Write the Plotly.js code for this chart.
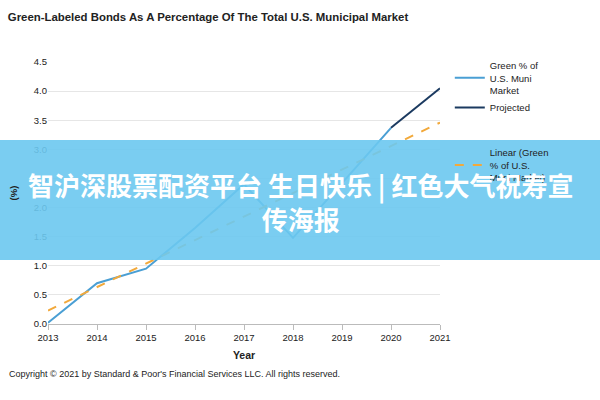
<!DOCTYPE html>
<html><head><meta charset="utf-8">
<script src="https://cdn.plot.ly/plotly-3.0.1.min.js"></script>
<style>html,body{margin:0;padding:0;background:#fff}#c{width:600px;height:400px}</style>
</head><body><div id="c"></div>
<script>
const years = [2013, 2014, 2015, 2016, 2017, 2018, 2019, 2020];
const greenPct = [0.02, 0.70, 0.95, 1.65, 2.40, 1.48, 2.42, 3.37];
const projYears = [2020, 2021];
const projPct = [3.37, 4.05];
const trendYears = [2013, 2021];
const trendPct = [0.23, 3.46];
const xTicks = [2013, 2014, 2015, 2016, 2017, 2018, 2019, 2020, 2021];
const yTicks = [0, 0.5, 1, 1.5, 2, 2.5, 3, 3.5, 4, 4.5];

const F = '"Liberation Sans", Arial, sans-serif';
const traces = [
  {x: years, y: greenPct, mode: 'lines', name: 'Green % of<br>U.S. Muni<br>Market',
   line: {color: '#4a9fd4', width: 2}, legendgroup: 'a'},
  {x: projYears, y: projPct, mode: 'lines', name: 'Projected',
   line: {color: '#1b3a60', width: 2}, legendgroup: 'a'},
  {x: trendYears, y: trendPct, mode: 'lines', name: 'Linear (Green<br>% of U.S.<br>Muni Market)',
   line: {color: '#f2a93b', width: 2, dash: 'dash'}, legendgroup: 'b'}
];
const layout = {
  width: 600, height: 400,
  margin: {l: 48, r: 160, t: 62, b: 76},
  paper_bgcolor: '#fff', plot_bgcolor: '#fff',
  font: {family: F, size: 9.5, color: '#222'},
  title: {text: '<b>Green-Labeled Bonds As A Percentage Of The Total U.S. Municipal Market</b>',
          x: 0.013, xanchor: 'left', y: 0.957, yanchor: 'middle', font: {family: F, size: 11.4, color: '#222'}},
  xaxis: {range: [2013, 2021], tickvals: xTicks, ticktext: xTicks.map(String),
          showgrid: false, zeroline: false, showline: true, linecolor: '#bbb',
          ticks: 'outside', ticklen: 5, tickcolor: '#bbb', tickfont: {size: 9.5},
          title: {text: '<b>Year</b>', font: {size: 10.5}, standoff: 9}},
  yaxis: {range: [0, 4.5], tickvals: yTicks, ticktext: yTicks.map(v => v.toFixed(1)),
          showgrid: true, gridcolor: '#e6e6e6', zeroline: false, showline: false,
          ticks: '', tickfont: {size: 9.5},
          title: {text: '<b>(%)</b>', font: {size: 9.5}, standoff: 14}},
  legend: {x: 1.025, y: 1.035, xanchor: 'left', yanchor: 'top', font: {size: 9.5},
           tracegroupgap: 28, itemwidth: 30, bgcolor: 'rgba(0,0,0,0)'},
  shapes: [{type: 'rect', xref: 'paper', yref: 'paper', layer: 'above',
            x0: -0.13, x1: 1.42, y0: 0.244, y1: 0.702,
            fillcolor: 'rgba(108,200,240,0.9)', line: {width: 0}}],
  annotations: [
    {text: 'Copyright © 2021 by Standard &amp; Poor\'s Financial Services LLC. All rights reserved.',
     xref: 'paper', yref: 'paper', x: -0.105, y: -0.19, xanchor: 'left', yanchor: 'middle',
     showarrow: false, font: {size: 9, color: '#222'}},
    {text: '<b>智沪深股票配资平台 生日快乐 | 红色大气祝寿宣<br>传海报</b>',
     xref: 'paper', yref: 'paper', x: 0.643, y: 0.468, xanchor: 'center', yanchor: 'middle',
     showarrow: false, align: 'center',
     font: {family: '"Noto Sans CJK SC", sans-serif', size: 26, color: '#fff'}}
  ]
};
Plotly.newPlot('c', traces, layout, {displayModeBar: false, staticPlot: true});
</script></body></html>
